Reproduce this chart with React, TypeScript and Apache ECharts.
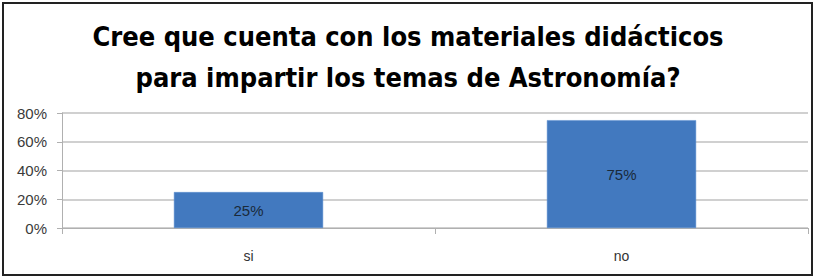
import React, { useEffect, useRef } from "react";
import * as echarts from "echarts";

const categories = ["si", "no"];
const values = [25, 75];
const yTicks = [0, 20, 40, 60, 80];
const titleLines = [
  "Cree que cuenta con los materiales didácticos",
  "para impartir los temas de Astronomía?",
];

export default function App() {
  const ref = useRef<HTMLDivElement>(null);
  useEffect(() => {
    document.body.style.margin = "0";
    const chart = echarts.init(ref.current!, null, { renderer: "svg" });
    chart.setOption({
      animation: false,
      backgroundColor: "#ffffff",
      title: {
        text: titleLines.join("\n"),
        left: "center",
        top: 11,
        textStyle: {
          fontFamily: "DejaVu Sans Condensed, Open Sans, sans-serif",
          fontWeight: "bold",
          fontSize: 27,
          lineHeight: 41,
          color: "#000000",
        },
      },
      graphic: [
        {
          type: "rect",
          shape: { x: 3, y: 3, width: 809, height: 272 },
          style: { fill: "none", stroke: "#222222", lineWidth: 2 },
          silent: true,
        },
      ],
      grid: { left: 62, right: 8, top: 113, bottom: 51 },
      xAxis: {
        type: "category",
        data: categories,
        axisLine: { lineStyle: { color: "#b0b0b0", width: 1 } },
        axisTick: { show: true, length: 6, lineStyle: { color: "#b0b0b0" } },
        axisLabel: {
          fontFamily: "Liberation Sans, Arial, sans-serif",
          fontSize: 14,
          color: "#333333",
          margin: 21,
        },
      },
      yAxis: {
        type: "value",
        min: 0,
        max: 80,
        interval: 20,
        axisLine: { show: true, lineStyle: { color: "#b0b0b0" } },
        axisTick: { show: true, length: 5, lineStyle: { color: "#b0b0b0" } },
        splitLine: { lineStyle: { color: "#c0c0c0", width: 1.5 } },
        axisLabel: {
          formatter: (v: number) => (yTicks.includes(v) ? v + "%" : ""),
          fontFamily: "Liberation Sans, Arial, sans-serif",
          fontSize: 15,
          color: "#3a3a3a",
          margin: 15,
        },
      },
      series: [
        {
          type: "bar",
          data: values,
          barWidth: "40%",
          itemStyle: { color: "#4279bf", borderColor: "#5a8fd0", borderWidth: 0.5 },
          label: {
            show: true,
            position: "inside",
            formatter: (p: any) => p.value + "%",
            fontFamily: "Liberation Sans, Arial, sans-serif",
            fontSize: 15,
            color: "#1a2a3a",
          },
        },
      ],
    });
    return () => chart.dispose();
  }, []);
  return <div ref={ref} style={{ width: 816, height: 279 }} />;
}
